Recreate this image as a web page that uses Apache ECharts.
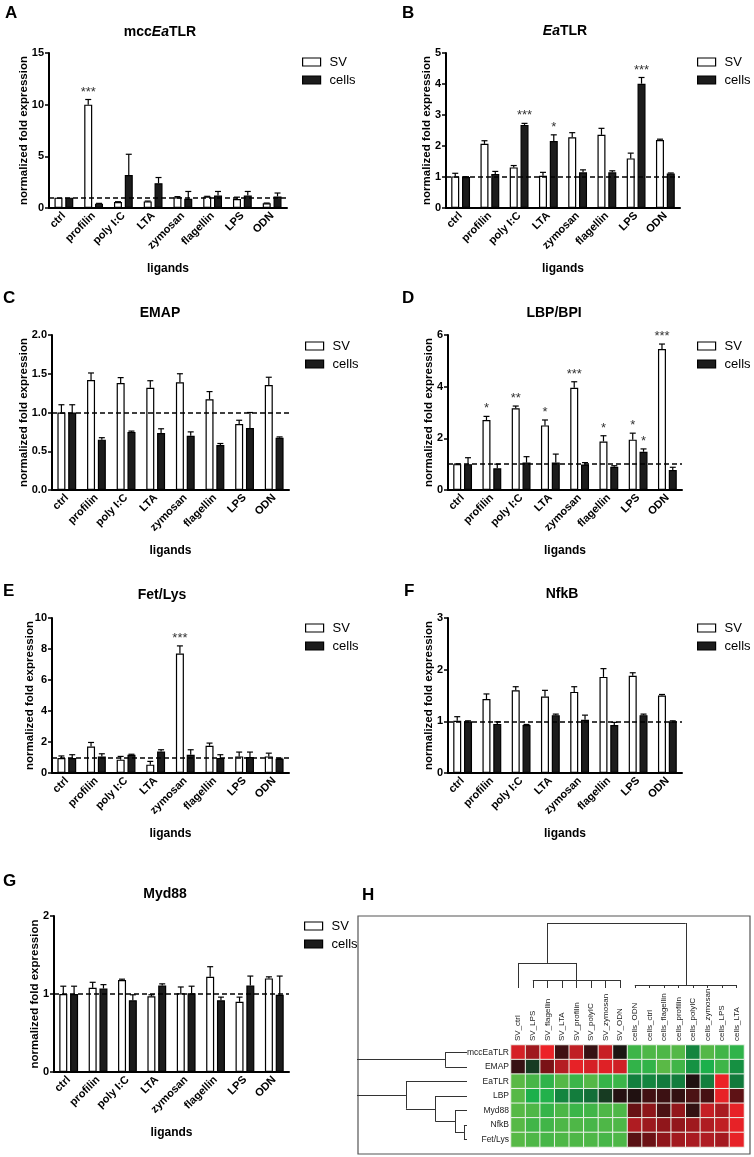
<!DOCTYPE html>
<html>
<head>
<meta charset="utf-8">
<script src="https://cdn.jsdelivr.net/npm/echarts@6.0.0/dist/echarts.min.js"></script>
<style>
html, body { margin: 0; padding: 0; background: #fff; }
#chart { width: 754px; height: 1157px; }
</style>
</head>
<body>
<div id="chart"></div>
<script>
var FONT = 'Arial, "Liberation Sans", Helvetica, sans-serif';
var ligands = ['ctrl', 'profilin', 'poly I:C', 'LTA', 'zymosan', 'flagellin', 'LPS', 'ODN'];

// A mccEaTLR
var mccSV       = [1.00, 10.0, 0.58, 0.64, 1.03, 1.10, 0.87, 0.45];
var mccSVErr    = [0, 0.50, 0.03, 0.03, 0.07, 0.03, 0.18, 0.03];
var mccCells    = [1.00, 0.42, 3.20, 2.40, 0.90, 1.22, 1.20, 1.12];
var mccCellsErr = [0, 0.03, 2.00, 0.55, 0.70, 0.38, 0.40, 0.33];
var mccSVSig    = ['', '***', '', '', '', '', '', ''];
var mccCellsSig = ['', '', '', '', '', '', '', ''];

// B EaTLR
var eaSV       = [1.02, 2.07, 1.31, 1.04, 2.28, 2.36, 1.60, 2.19];
var eaSVErr    = [0.10, 0.10, 0.06, 0.11, 0.15, 0.21, 0.17, 0.03];
var eaCells    = [1.00, 1.10, 2.68, 2.16, 1.15, 1.15, 4.01, 1.11];
var eaCellsErr = [0.01, 0.08, 0.05, 0.20, 0.08, 0.05, 0.20, 0.02];
var eaSVSig    = ['', '', '', '', '', '', '', ''];
var eaCellsSig = ['', '', '***', '*', '', '', '***', ''];

// C EMAP
var emapSV       = [1.00, 1.42, 1.38, 1.32, 1.39, 1.17, 0.85, 1.355];
var emapSVErr    = [0.10, 0.09, 0.07, 0.09, 0.11, 0.10, 0.05, 0.10];
var emapCells    = [1.00, 0.65, 0.75, 0.735, 0.70, 0.58, 0.80, 0.675];
var emapCellsErr = [0.10, 0.025, 0.01, 0.055, 0.05, 0.02, 0.20, 0.01];
var emapSVSig    = ['', '', '', '', '', '', '', ''];
var emapCellsSig = ['', '', '', '', '', '', '', ''];

// D LBP/BPI
var lbpSV       = [1.00, 2.71, 3.16, 2.50, 3.96, 1.88, 1.95, 5.46];
var lbpSVErr    = [0.01, 0.14, 0.09, 0.21, 0.23, 0.22, 0.25, 0.19];
var lbpCells    = [1.00, 0.84, 1.06, 1.06, 0.99, 0.90, 1.48, 0.77];
var lbpCellsErr = [0.25, 0.16, 0.23, 0.33, 0.07, 0.04, 0.11, 0.11];
var lbpSVSig    = ['', '*', '**', '*', '***', '*', '*', '***'];
var lbpCellsSig = ['', '', '', '', '', '', '*', ''];

// E Fet/Lys
var fetSV       = [0.96, 1.71, 0.86, 0.54, 7.71, 1.76, 1.07, 1.07];
var fetSVErr    = [0.14, 0.26, 0.21, 0.21, 0.49, 0.17, 0.28, 0.21];
var fetCells    = [0.96, 1.07, 1.18, 1.39, 1.18, 0.96, 1.03, 0.92];
var fetCellsErr = [0.22, 0.17, 0.03, 0.11, 0.32, 0.22, 0.32, 0.03];
var fetSVSig    = ['', '', '', '', '***', '', '', ''];
var fetCellsSig = ['', '', '', '', '', '', '', ''];

// F NfkB
var nfkbSV       = [1.01, 1.43, 1.60, 1.48, 1.57, 1.86, 1.88, 1.50];
var nfkbSVErr    = [0.08, 0.10, 0.07, 0.12, 0.10, 0.16, 0.06, 0.02];
var nfkbCells    = [1.00, 0.95, 0.93, 1.12, 1.03, 0.93, 1.12, 1.00];
var nfkbCellsErr = [0.01, 0.04, 0.01, 0.02, 0.09, 0.05, 0.02, 0.01];
var nfkbSVSig    = ['', '', '', '', '', '', '', ''];
var nfkbCellsSig = ['', '', '', '', '', '', '', ''];

// G Myd88
var mydSV       = [1.00, 1.08, 1.18, 0.97, 1.01, 1.22, 0.90, 1.20];
var mydSVErr    = [0.10, 0.07, 0.01, 0.02, 0.08, 0.13, 0.06, 0.02];
var mydCells    = [1.00, 1.07, 0.92, 1.11, 1.01, 0.92, 1.11, 0.99];
var mydCellsErr = [0.10, 0.05, 0.07, 0.02, 0.09, 0.04, 0.12, 0.24];
var mydSVSig    = ['', '', '', '', '', '', '', ''];
var mydCellsSig = ['', '', '', '', '', '', '', ''];

// H heatmap
var colLabels = ['SV_ctrl', 'SV_LPS', 'SV_flagellin', 'SV_LTA', 'SV_profilin', 'SV_polyIC', 'SV_zymosan', 'SV_ODN',
  'cells_ODN', 'cells_ctrl', 'cells_flagellin', 'cells_profilin', 'cells_polyIC', 'cells_zymosan', 'cells_LPS', 'cells_LTA'];
var rowLabels = ['mccEaTLR', 'EMAP', 'EaTLR', 'LBP', 'Myd88', 'NfkB', 'Fet/Lys'];
var heatRows = [
  [2.55, 1.6, 3.0, 0.4, 2.15, 0.3, 2.3, -0.05, -2.55, -2.8, -2.8, -2.9, -1.2, -2.9, -2.6, -2.3],
  [0.3, -0.4, 1.0, 1.95, 2.9, 2.55, 2.75, 2.45, -2.35, -2.35, -3.0, -2.6, -1.45, -2.0, -2.55, -1.4],
  [-3.0, -2.7, -2.3, -2.9, -2.5, -2.9, -2.4, -2.5, -1.1, -1.2, -1.0, -1.05, 0.05, -1.1, 3.0, -1.0],
  [-2.95, -2.0, -2.1, -1.2, -1.05, -0.9, -0.4, 0.1, 0.05, 0.4, 0.35, 0.25, 0.5, 0.45, 2.9, 0.7],
  [-2.95, -2.8, -2.4, -2.75, -2.5, -2.6, -2.8, -2.8, 0.8, 1.3, 0.5, 1.4, 0.25, 2.25, 1.75, 2.9],
  [-2.95, -2.6, -2.6, -2.8, -2.8, -2.7, -2.8, -2.8, 1.85, 1.55, 1.35, 1.4, 1.6, 1.85, 2.15, 2.9],
  [-2.95, -2.8, -2.7, -2.8, -2.8, -2.8, -2.7, -2.8, 0.65, 0.85, 1.35, 1.65, 1.75, 1.85, 1.7, 2.9]
];
// dendrogram merges: [member ids, height]; leaves first, new nodes numbered after them
var colMerges = [
  [[1, 2, 3, 4, 5, 6, 7], 0.123],
  [[0, 16], 0.385],
  [[8, 9, 10, 11, 12, 13, 14, 15], 0.046],
  [[17, 18], 1.0]
];
var rowMerges = [
  [[0, 1], 0.2],
  [[5, 6], 0.028],
  [[4, 8], 0.11],
  [[3, 9], 0.29],
  [[2, 10], 0.56],
  [[7, 11], 1.2]
];

var panels = [
  { sv: mccSV, svErr: mccSVErr, cells: mccCells, cellsErr: mccCellsErr, svSig: mccSVSig, cellsSig: mccCellsSig,
    max: 15, step: 5, box: [49, 53, 238, 155], nameGap: 19, legend: [302, 62],
    title: ['{n|mcc}{i|Ea}{n|TLR}', 160, 32], letter: ['A', 5, 13.5] },
  { sv: eaSV, svErr: eaSVErr, cells: eaCells, cellsErr: eaCellsErr, svSig: eaSVSig, cellsSig: eaCellsSig,
    max: 5, step: 1, box: [446, 53, 234, 155], nameGap: 13, legend: [697, 62],
    title: ['{i|Ea}{n|TLR}', 565, 31], letter: ['B', 402, 13.5] },
  { sv: emapSV, svErr: emapSVErr, cells: emapCells, cellsErr: emapCellsErr, svSig: emapSVSig, cellsSig: emapCellsSig,
    max: 2, step: 0.5, box: [52, 335, 237, 155], nameGap: 22, legend: [305, 346], fixed: 1,
    title: ['{n|EMAP}', 160, 313], letter: ['C', 3, 298] },
  { sv: lbpSV, svErr: lbpSVErr, cells: lbpCells, cellsErr: lbpCellsErr, svSig: lbpSVSig, cellsSig: lbpCellsSig,
    max: 6, step: 2, box: [448, 335, 234, 155], nameGap: 13, legend: [697, 346],
    title: ['{n|LBP/BPI}', 554, 313], letter: ['D', 402, 298] },
  { sv: fetSV, svErr: fetSVErr, cells: fetCells, cellsErr: fetCellsErr, svSig: fetSVSig, cellsSig: fetCellsSig,
    max: 10, step: 2, box: [52, 618, 237, 155], nameGap: 16, legend: [305, 628],
    title: ['{n|Fet/Lys}', 162, 595], letter: ['E', 3, 591] },
  { sv: nfkbSV, svErr: nfkbSVErr, cells: nfkbCells, cellsErr: nfkbCellsErr, svSig: nfkbSVSig, cellsSig: nfkbCellsSig,
    max: 3, step: 1, box: [448, 618, 234, 155], nameGap: 13, legend: [697, 628],
    title: ['{n|NfkB}', 562, 594], letter: ['F', 404, 591] },
  { sv: mydSV, svErr: mydSVErr, cells: mydCells, cellsErr: mydCellsErr, svSig: mydSVSig, cellsSig: mydCellsSig,
    max: 2, step: 1, box: [54, 916, 235, 156], nameGap: 13, legend: [304, 926],
    title: ['{n|Myd88}', 165, 894], letter: ['G', 3, 881] }
];

function errSeries(k, vals, errs, sig, offset) {
  return {
    type: 'custom', xAxisIndex: k, yAxisIndex: k, z: 5, silent: true,
    data: vals.map(function (v, i) { return [i, v, errs[i]]; }),
    renderItem: function (params, api) {
      var i = api.value(0), v = api.value(1), e = api.value(2);
      var base = api.coord([i, v]);
      var top = api.coord([i, v + e]);
      var x = base[0] + offset;
      var kids = [];
      if (e > 0) {
        kids.push({ type: 'line', shape: { x1: x, y1: base[1], x2: x, y2: top[1] }, style: { stroke: '#000', lineWidth: 1.2 } });
        kids.push({ type: 'line', shape: { x1: x - 3, y1: top[1], x2: x + 3, y2: top[1] }, style: { stroke: '#000', lineWidth: 1.2 } });
      }
      if (sig[i]) {
        kids.push({ type: 'text', x: x, y: top[1] - 1,
          style: { text: sig[i], align: 'center', verticalAlign: 'bottom', font: '13px ' + FONT, fill: '#333' } });
      }
      return { type: 'group', children: kids };
    }
  };
}

function treeSegments(nLeaves, merges, flip) {
  var pos = [], h = [], segs = [];
  for (var i = 0; i < nLeaves; i++) { pos.push(i); h.push(0); }
  function pt(p, hh) { return flip ? [hh, p] : [p, hh]; }
  merges.forEach(function (m) {
    var ids = m[0], hh = m[1];
    var first = pos[ids[0]], last = pos[ids[ids.length - 1]];
    ids.forEach(function (id) { segs.push({ coords: [pt(pos[id], h[id]), pt(pos[id], hh)] }); });
    segs.push({ coords: [pt(first, hh), pt(last, hh)] });
    pos.push((first + last) / 2);
    h.push(hh);
  });
  return segs;
}

var grids = [], xAxes = [], yAxes = [], series = [], legends = [], graphics = [];
var boldName = { fontWeight: 'bold', color: '#000', fontFamily: FONT };

panels.forEach(function (p, k) {
  grids.push({ left: p.box[0], top: p.box[1], width: p.box[2], height: p.box[3], containLabel: false, outerBoundsMode: 'none' });
  xAxes.push({
    type: 'category', gridIndex: k, data: ligands,
    axisLine: { lineStyle: { color: '#000', width: 2 } },
    axisTick: { alignWithLabel: true, length: 4, lineStyle: { color: '#000', width: 1.5 } },
    axisLabel: { interval: 0, rotate: 45, color: '#000', fontWeight: 'bold', fontSize: 11, margin: 6, fontFamily: FONT },
    name: 'ligands', nameLocation: 'middle', nameGap: 55,
    nameTextStyle: Object.assign({ fontSize: 12 }, boldName)
  });
  yAxes.push({
    type: 'value', gridIndex: k, min: 0, max: p.max, interval: p.step,
    axisLine: { show: true, lineStyle: { color: '#000', width: 2 } },
    axisTick: { show: true, length: 4, lineStyle: { color: '#000', width: 1.5 } },
    splitLine: { show: false },
    axisLabel: { color: '#000', fontWeight: 'bold', fontSize: 11, margin: 5, fontFamily: FONT,
      formatter: function (v) { return p.fixed ? v.toFixed(1) : String(v); } },
    name: 'normalized fold expression', nameLocation: 'middle', nameGap: p.nameGap, nameMoveOverlap: false,
    nameTextStyle: Object.assign({ fontSize: 11.5 }, boldName)
  });
  series.push({
    type: 'bar', name: 'SV', xAxisIndex: k, yAxisIndex: k, data: p.sv, barWidth: 8, barGap: '35%',
    itemStyle: { color: '#fff', borderColor: '#000', borderWidth: 1.2 },
    markLine: { silent: true, symbol: ['none', 'none'], label: { show: false },
      lineStyle: { type: [5, 3], color: '#000', width: 1.5 }, data: [{ yAxis: 1 }] }
  });
  series.push({
    type: 'bar', name: 'cells', xAxisIndex: k, yAxisIndex: k, data: p.cells, barWidth: 8, barGap: '35%',
    itemStyle: { color: '#1c1c1c', borderColor: '#000', borderWidth: 1.2 }
  });
  series.push(errSeries(k, p.sv, p.svErr, p.svSig, -5.4));
  series.push(errSeries(k, p.cells, p.cellsErr, p.cellsSig, 5.4));

  legends.push({ orient: 'vertical', left: p.legend[0], top: p.legend[1] - 6.5, padding: 0, itemGap: 5,
    itemWidth: 18, itemHeight: 8, icon: 'rect', selectedMode: false, data: ['SV', 'cells'],
    textStyle: { fontSize: 13, color: '#000', fontFamily: FONT, padding: [0, 0, 0, 4] },
    itemStyle: { borderColor: '#000', borderWidth: 1.2 } });

  graphics.push({ type: 'text', x: p.title[1], y: p.title[2], silent: true,
    style: { text: p.title[0], align: 'center', verticalAlign: 'middle',
      rich: { n: { font: 'bold 14px ' + FONT, fill: '#000' }, i: { font: 'italic bold 14px ' + FONT, fill: '#000' } } } });
  graphics.push({ type: 'text', x: p.letter[1], y: p.letter[2], silent: true,
    style: { text: p.letter[0], align: 'left', verticalAlign: 'middle', font: 'bold 17px ' + FONT, fill: '#000' } });
});

// H: heatmap + dendrograms
var hIdx = grids.length;
grids.push({ left: 511, top: 1045, width: 233, height: 102, containLabel: false, outerBoundsMode: 'none' });
xAxes.push({ type: 'category', gridIndex: hIdx, position: 'top', data: colLabels,
  axisLine: { show: false }, axisTick: { show: false }, splitLine: { show: false },
  axisLabel: { interval: 0, rotate: -90, fontSize: 8, color: '#1a1a1a', margin: 4, fontFamily: FONT } });
yAxes.push({ type: 'category', gridIndex: hIdx, data: rowLabels, inverse: true,
  axisLine: { show: false }, axisTick: { show: false }, splitLine: { show: false },
  axisLabel: { fontSize: 8.5, color: '#1a1a1a', margin: 2, fontFamily: FONT } });
var heatData = [];
heatRows.forEach(function (row, r) { row.forEach(function (v, c) { heatData.push([c, r, v]); }); });
var heatSeriesIdx = series.length;
series.push({ type: 'heatmap', xAxisIndex: hIdx, yAxisIndex: hIdx, data: heatData, silent: true,
  itemStyle: { borderColor: '#eef2ea', borderWidth: 1 } });

var cIdx = grids.length;
grids.push({ left: 511, top: 923, width: 233, height: 65, containLabel: false, outerBoundsMode: 'none' });
xAxes.push({ type: 'value', gridIndex: cIdx, min: -0.5, max: 15.5, show: false });
yAxes.push({ type: 'value', gridIndex: cIdx, min: 0, max: 1, show: false });
series.push({ type: 'lines', coordinateSystem: 'cartesian2d', xAxisIndex: cIdx, yAxisIndex: cIdx, silent: true, clip: true,
  data: treeSegments(16, colMerges, false), lineStyle: { color: '#333', width: 1, opacity: 1 } });

var rIdx = grids.length;
grids.push({ left: 358, top: 1045, width: 109, height: 102, containLabel: false, outerBoundsMode: 'none' });
xAxes.push({ type: 'value', gridIndex: rIdx, min: 0, max: 1, inverse: true, show: false });
yAxes.push({ type: 'value', gridIndex: rIdx, min: -0.5, max: 6.5, inverse: true, show: false });
series.push({ type: 'lines', coordinateSystem: 'cartesian2d', xAxisIndex: rIdx, yAxisIndex: rIdx, silent: true, clip: true,
  data: treeSegments(7, rowMerges, true), lineStyle: { color: '#333', width: 1, opacity: 1 } });

graphics.push({ type: 'rect', silent: true, shape: { x: 358, y: 916, width: 392, height: 238 },
  style: { fill: 'none', stroke: '#555', lineWidth: 1.2 } });
graphics.push({ type: 'text', x: 362, y: 895, silent: true,
  style: { text: 'H', align: 'left', verticalAlign: 'middle', font: 'bold 17px ' + FONT, fill: '#000' } });

var myChart = echarts.init(document.getElementById('chart'));
myChart.setOption({
  animation: false,
  backgroundColor: '#fff',
  textStyle: { fontFamily: FONT },
  grid: grids,
  xAxis: xAxes,
  yAxis: yAxes,
  legend: legends,
  visualMap: { type: 'continuous', show: false, min: -3, max: 3, dimension: 2, seriesIndex: heatSeriesIdx,
    inRange: { color: ['#5ab946', '#1cb04b', '#127a3c', '#1b1111', '#7a1216', '#b81e24', '#ec2227'] } },
  graphic: graphics,
  series: series
});
</script>
</body>
</html>
